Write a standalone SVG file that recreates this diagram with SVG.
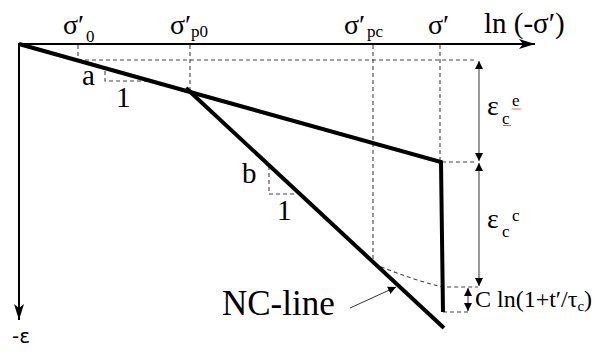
<svg xmlns="http://www.w3.org/2000/svg" width="595" height="354" viewBox="0 0 595 354">
<style>
text{font-family:"Liberation Serif","Times New Roman",serif;fill:#000}
.axis{stroke:#000;stroke-width:2;fill:none}
.bold{stroke:#000;stroke-width:4;fill:none;stroke-linejoin:miter}
.dash{stroke:#444;stroke-width:1.1;stroke-dasharray:4 3;fill:none}
.dim{stroke:#333;stroke-width:1;fill:none}
.sq{stroke:#e03030;stroke-width:0.8;fill:none}
.big{font-size:29px}
.lab{font-size:28px}
.sub{font-size:17px}
</style>
<defs>
<marker id="axHead" viewBox="0 0 16 10" refX="16" refY="5" markerWidth="16" markerHeight="10" markerUnits="userSpaceOnUse" orient="auto">
<path d="M0,0 L16,5 L0,10 L4,5 Z" fill="#000"/>
</marker>
<marker id="dimHead" viewBox="0 0 8 8" refX="8" refY="4" markerWidth="8" markerHeight="8" markerUnits="userSpaceOnUse" orient="auto-start-reverse">
<path d="M0,0 L8,4 L0,8 Z" fill="#000"/>
</marker>
</defs>

<g id="dashed-guides">
<path class="dash" d="M78,45 V61 M78,60 H477"/>
<path class="dash" d="M105,71 V81 H148"/>
<path class="dash" d="M190,45 V92"/>
<path class="dash" d="M269,166 V194 H296"/>
<path class="dash" d="M373,45 V263"/>
<path class="dash" d="M440,45 V162 H477"/>
<path class="dash" d="M374,264 Q410,279 442,287 H478"/>
<path class="dash" d="M443,312 H468"/>
</g>

<g id="axes">
<line class="axis" x1="19" y1="44" x2="535" y2="44" marker-end="url(#axHead)"/>
<line class="axis" x1="19" y1="43" x2="19" y2="320" marker-end="url(#axHead)"/>
</g>

<g id="curves">
<polyline class="bold" points="19,44 190,92 441,162 443,312"/>
<line class="bold" x1="186" y1="88" x2="444" y2="328"/>
</g>

<g id="connectors">
<line class="dim" x1="479" y1="61" x2="479" y2="161" marker-start="url(#dimHead)" marker-end="url(#dimHead)"/>
<line class="dim" x1="479" y1="163" x2="479" y2="286" marker-start="url(#dimHead)" marker-end="url(#dimHead)"/>
<line class="dim" x1="468" y1="288" x2="468" y2="311" marker-start="url(#dimHead)" marker-end="url(#dimHead)"/>
<line class="dim" x1="350" y1="308" x2="396" y2="287" marker-end="url(#dimHead)"/>
</g>

<g id="axis-labels">
<text class="big" x="484" y="33">ln (-σ′)</text>
<text x="12" y="343" style="font-family:'DejaVu Sans',sans-serif;font-size:20px">-ε</text>
</g>

<g id="stress-labels">
<text class="lab" x="63" y="34">σ′</text><text class="sub" x="86" y="42">0</text>
<text class="lab" x="170" y="34">σ′</text><text class="sub" x="191" y="37">p0</text>
<text class="lab" x="344" y="34">σ′</text><text class="sub" x="367" y="37">pc</text>
<text class="lab" x="428" y="34">σ′</text>
</g>

<g id="slope-labels">
<text class="big" x="82" y="85">a</text>
<text class="big" x="116" y="107">1</text>
<text class="big" x="242" y="183">b</text>
<text class="big" x="277" y="220">1</text>
</g>

<g id="strain-labels">
<text class="lab" x="487" y="115">ε</text><text class="sub" x="502" y="124">c</text><text class="sub" x="512" y="106">e</text>
<path class="sq" d="M512,109.5 l1,-1 1,1 1,-1 1,1 1,-1 1,1 1,-1 1,1 1,-1"/>
<path class="sq" d="M503,126 l1,-1 1,1 1,-1 1,1 1,-1 1,1 1,-1 1,1"/>
<text class="lab" x="487" y="228">ε</text><text class="sub" x="502" y="237">c</text><text class="sub" x="512" y="221">c</text>
<text style="font-size:24px" x="475" y="307">C ln(1+t′/τ<tspan class="sub" dy="4" style="font-size:15px">c</tspan><tspan dy="-4">)</tspan></text>
</g>

<g id="nc-line-label">
<text style="font-size:35px" x="222" y="315">NC-line</text>
</g>
</svg>
